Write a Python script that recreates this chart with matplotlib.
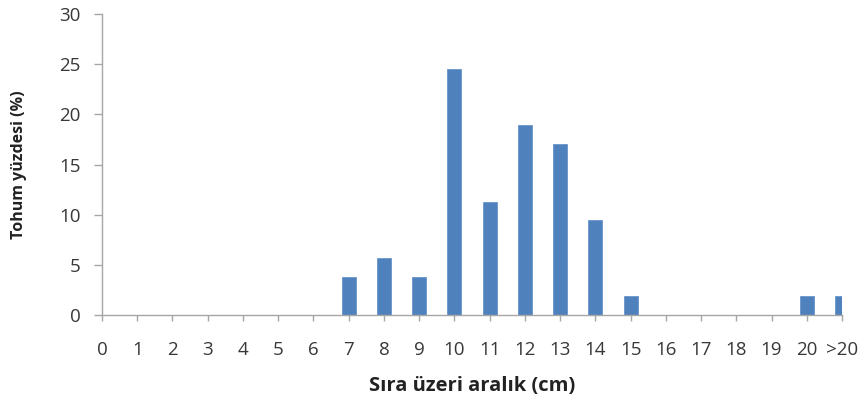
import matplotlib.pyplot as plt

categories = [str(i) for i in range(21)] + [">20"]
values = [0, 0, 0, 0, 0, 0, 0, 3.8, 5.66, 3.8, 24.5, 11.3, 18.9, 17.0, 9.43, 1.9,
          0, 0, 0, 0, 1.9, 1.9]
yticks = [0, 5, 10, 15, 20, 25, 30]

plt.rcParams['font.family'] = ['Open Sans', 'DejaVu Sans']

fig = plt.figure(figsize=(8.64, 4.03), dpi=100)
ax = fig.add_axes([102 / 864, 1 - 315 / 403, 740 / 864, 301 / 403])

x = list(range(len(categories)))
ax.bar(x, values, width=0.4, color='#4F81BD', edgecolor='#6A96CC', linewidth=0.6)

ax.set_xlim(0, 21)
ax.set_ylim(0, 30)
ax.set_xticks(x)
ax.set_xticklabels(categories)
ax.set_yticks(yticks)

for s in ['top', 'right']:
    ax.spines[s].set_visible(False)
for s in ['left', 'bottom']:
    ax.spines[s].set_color('#A6A6A6')
    ax.spines[s].set_linewidth(1.0)

ax.tick_params(axis='both', colors='#A6A6A6', width=1, labelsize=13.5,
               labelcolor='#383838')
ax.tick_params(axis='x', length=4, pad=14.5)
ax.tick_params(axis='y', length=5.5, pad=10)

ax.set_xlabel("Sıra üzeri aralık (cm)", fontsize=14.5, fontweight='bold',
              color='#222222')
ax.xaxis.set_label_coords(0.5, -(386 - 315) / 301, transform=ax.transAxes)
ax.xaxis.label.set_verticalalignment('center')
ax.set_ylabel("Tohum yüzdesi (%)", fontsize=11.5, fontweight='bold',
              color='#222222')
ax.yaxis.set_label_coords(-(102 - 19) / 740, 0.5, transform=ax.transAxes)
ax.yaxis.label.set_verticalalignment('center')

fig.savefig("out.png", dpi=100)
